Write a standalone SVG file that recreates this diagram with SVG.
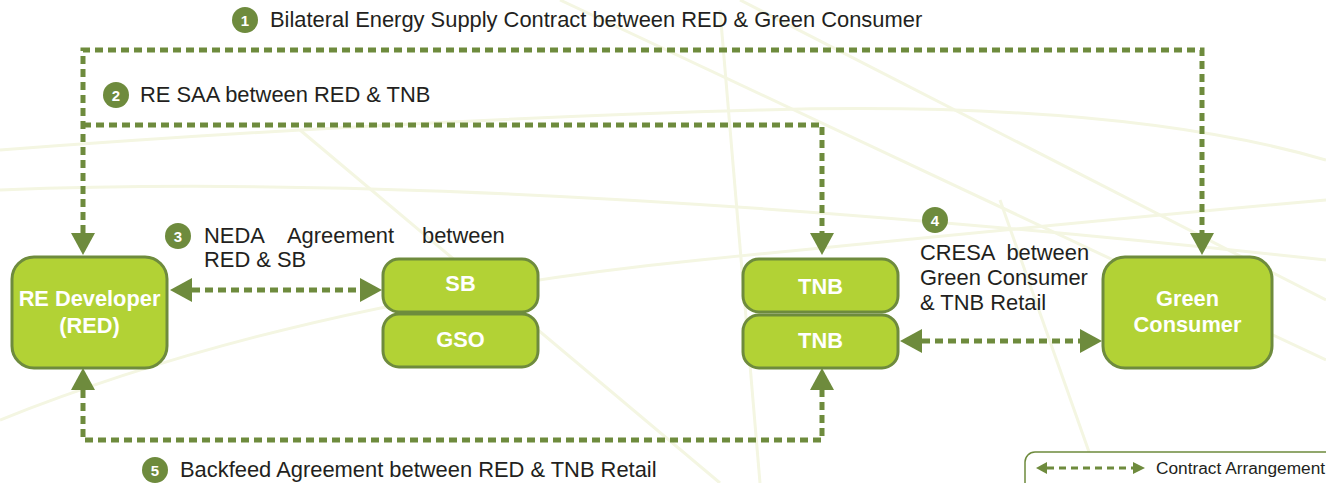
<svg xmlns="http://www.w3.org/2000/svg" width="1326" height="483" viewBox="0 0 1326 483">
<style>
.bg{fill:none;stroke:#f4f6e2;stroke-width:3}
.box{fill:#b2d235;stroke:#6e8b3d;stroke-width:3}
.nt{font-family:"Liberation Sans",Arial,sans-serif;font-weight:bold;fill:#ffffff;font-size:21.8px;text-anchor:middle}
.lbl{font-family:"Liberation Sans",Arial,sans-serif;fill:#231f20;font-size:21.9px}
.num{fill:#6e8b3d}
.numt{font-family:"Liberation Sans",Arial,sans-serif;font-weight:bold;fill:#ffffff;font-size:15px;text-anchor:middle}
.dash{fill:none;stroke:#6e8b3d;stroke-width:5;stroke-dasharray:8 5}
.head{fill:#6e8b3d}
</style>
<rect width="1326" height="483" fill="#ffffff"/>
<g id="background">
<path class="bg" d="M0 150 Q400 120 760 110 T1326 160"/>
<path class="bg" d="M0 190 Q500 170 1326 260"/>
<path class="bg" d="M0 420 Q300 300 700 260 T1326 200"/>
<path class="bg" d="M560 0 L1326 360"/>
<path class="bg" d="M740 0 L1326 300"/>
<path class="bg" d="M720 10 L760 483"/>
<path class="bg" d="M1000 200 L1100 483"/>
<path class="bg" d="M300 130 L720 483"/>
</g>
<g id="connectors">
<path class="dash" d="M83 233 V50 H1202 V233"/>
<path class="dash" d="M83 125 H822 V233"/>
<path class="dash" d="M83 390 V440 H822 V390"/>
<path class="dash" d="M192 290 H360"/>
<path class="dash" d="M922 341 H1080"/>
<polygon class="head" points="71,233 95,233 83,255"/>
<polygon class="head" points="810,233 834,233 822,255"/>
<polygon class="head" points="1190,233 1214,233 1202,255"/>
<polygon class="head" points="71,390 95,390 83,368"/>
<polygon class="head" points="810,390 834,390 822,368"/>
<polygon class="head" points="192,278 192,302 170,290"/>
<polygon class="head" points="360,278 360,302 382,290"/>
<polygon class="head" points="922,329 922,353 900,341"/>
<polygon class="head" points="1080,329 1080,353 1102,341"/>
</g>
<g id="node-red">
<rect class="box" x="12" y="257" width="155" height="111" rx="22"/>
<text class="nt" x="89.5" y="306">RE Developer</text>
<text class="nt" x="89.5" y="333">(RED)</text>
</g>
<g id="node-sb">
<rect class="box" x="383" y="259" width="155" height="53" rx="16"/>
<text class="nt" x="460.5" y="291">SB</text>
</g>
<g id="node-gso">
<rect class="box" x="383" y="314" width="155" height="53" rx="16"/>
<text class="nt" x="460.5" y="347">GSO</text>
</g>
<g id="node-tnb1">
<rect class="box" x="743" y="259" width="155" height="53" rx="16"/>
<text class="nt" x="820.5" y="294">TNB</text>
</g>
<g id="node-tnb2">
<rect class="box" x="743" y="315" width="155" height="53" rx="16"/>
<text class="nt" x="820.5" y="348">TNB</text>
</g>
<g id="node-green">
<rect class="box" x="1103" y="257" width="169" height="111" rx="22"/>
<text class="nt" x="1187.5" y="306">Green</text>
<text class="nt" x="1187.5" y="332">Consumer</text>
</g>
<g id="labels">
<circle class="num" cx="245" cy="20" r="13"/><text class="numt" x="245" y="25.5">1</text>
<text class="lbl" x="270" y="27">Bilateral Energy Supply Contract between RED &amp; Green Consumer</text>
<circle class="num" cx="116" cy="95" r="13"/><text class="numt" x="116" y="100.5">2</text>
<text class="lbl" x="140" y="102">RE SAA between RED &amp; TNB</text>
<circle class="num" cx="178" cy="236" r="13"/><text class="numt" x="178" y="241.5">3</text>
<text class="lbl" y="243"><tspan x="204">NEDA</tspan> <tspan x="287">Agreement</tspan> <tspan x="422">between</tspan></text>
<text class="lbl" x="204" y="267">RED &amp; SB</text>
<circle class="num" cx="935" cy="220" r="13"/><text class="numt" x="935" y="225.5">4</text>
<text class="lbl" x="920" y="260" xml:space="preserve">CRESA  between</text>
<text class="lbl" x="920" y="285">Green Consumer</text>
<text class="lbl" x="920" y="310">&amp; TNB Retail</text>
<circle class="num" cx="155" cy="470" r="13"/><text class="numt" x="155" y="475.5">5</text>
<text class="lbl" x="180" y="477">Backfeed Agreement between RED &amp; TNB Retail</text>
</g>
<g id="legend">
<rect x="1025" y="452" width="320" height="50" rx="10" fill="#ffffff" stroke="#6e8b3d" stroke-width="1.5"/>
<path d="M1047 468 H1133" fill="none" stroke="#6e8b3d" stroke-width="3" stroke-dasharray="7 5"/>
<polygon class="head" points="1047,462 1047,474 1036,468"/>
<polygon class="head" points="1133,462 1133,474 1145,468"/>
<text x="1156" y="474" font-family="Liberation Sans,Arial,sans-serif" font-size="17.3" fill="#231f20">Contract Arrangement</text>
</g>
</svg>
